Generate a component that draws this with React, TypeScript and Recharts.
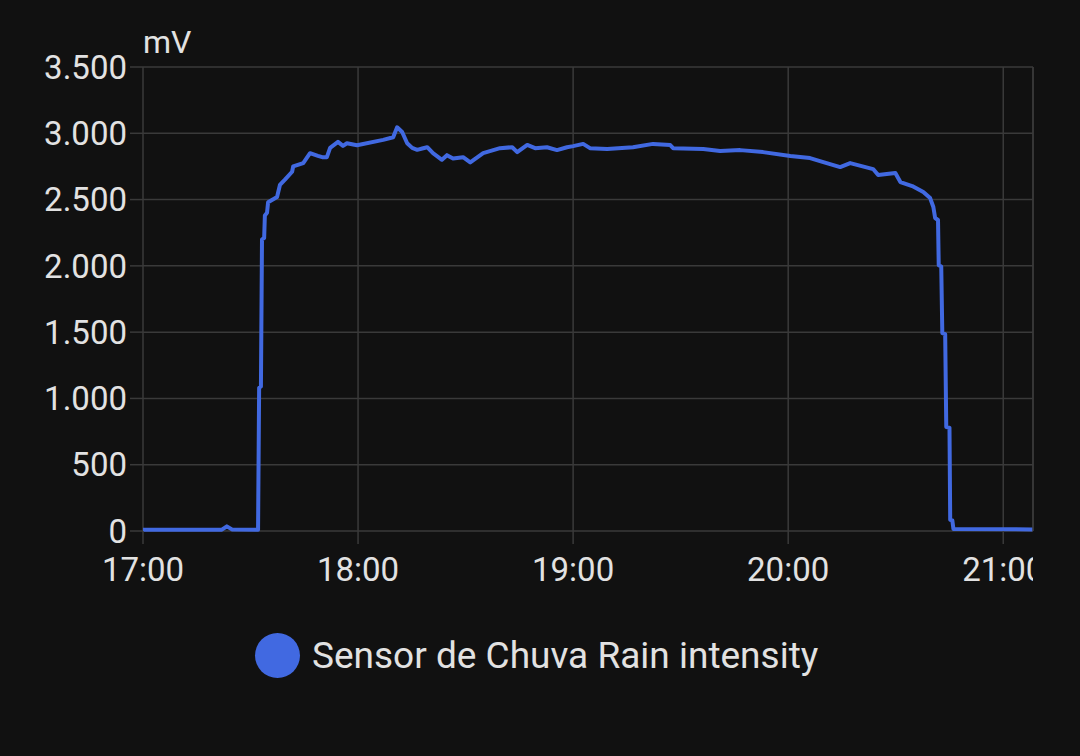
import React from 'react';
import { LineChart, Line, XAxis, YAxis, CartesianGrid, ReferenceLine } from 'recharts';

// minutes since 17:00
const minutes = [
  0, 15.9, 22, 23.4, 24.8, 32.1, 32.4, 32.9, 33.2, 33.8, 34.0, 34.6, 34.9, 37.4, 38.2, 39.6,
  41.6, 41.9, 44.7, 46.6, 48.8, 50, 51.3, 52.2, 54.4, 55.8, 56.9, 59.7, 67, 69.8, 70.9, 72.3,
  73.7, 75.1, 76.5, 77.9, 79.3, 80.9, 83.4, 84.8, 86.5, 89.3, 91.3, 94.9, 99.6, 103, 104.4,
  107.2, 109.4, 112.7, 115.5, 118.3, 120, 122.8, 124.7, 129.5, 136.7, 142.3, 147.1, 147.9,
  156.3, 161, 166.6, 173, 180.6, 186.1, 189.8, 194.5, 197.3, 203.7, 205.1, 209.9, 211.3,
  214.6, 217.7, 219.6, 220.5, 221, 221.8, 222, 222.7, 223, 223.8, 224.1, 225, 225.2, 225.8,
  226.1, 248.1,
];

// mV
const rainIntensity = [
  10, 10, 10, 35, 12, 10, 1080, 1090, 2200, 2210, 2380, 2400, 2480, 2520, 2610, 2650,
  2710, 2750, 2775, 2850, 2830, 2820, 2820, 2890, 2935, 2905, 2925, 2910, 2950, 2970, 3045, 3010,
  2925, 2890, 2875, 2885, 2895, 2850, 2800, 2835, 2810, 2820, 2780, 2850, 2888, 2895, 2858,
  2912, 2888, 2895, 2873, 2895, 2903, 2920, 2888, 2881, 2895, 2920, 2911, 2888,
  2881, 2866, 2873, 2858, 2828, 2813, 2783, 2745, 2775, 2730, 2685, 2700, 2632,
  2602, 2557, 2511, 2444, 2361, 2346, 2005, 1995, 1493, 1485, 785, 780, 85, 80,
  15, 12,
];

const xTicks = [0, 60, 120, 180, 240];
const xTickLabels = ['17:00', '18:00', '19:00', '20:00', '21:00'];
const yTicks = [0, 500, 1000, 1500, 2000, 2500, 3000, 3500];

const SERIES_NAME = 'Sensor de Chuva Rain intensity';
const UNIT = 'mV';
const X_MAX = 248.3;

const W = 1080;
const H = 600;
const MARGIN = { top: 67, right: 47, bottom: 0, left: 0 };
const FONT = 'Roboto, "Noto Sans", sans-serif';
const TEXT = '#e2e2e2';
const GRID = '#3a3a3a';
const BLUE = '#4169e1';

const data = minutes.map((t, i) => ({ t, value: rainIntensity[i] }));

const fmtThousands = (v: number) => String(v).replace(/\B(?=(\d{3})+(?!\d))/g, '.');

const XTick = ({ x, y, payload, index }: any) => {
  const label = xTickLabels[xTicks.indexOf(payload.value)] ?? '';
  const id = `xclip-${index}`;
  return (
    <g>
      <defs>
        <clipPath id={id}>
          <rect x={0} y={0} width={W - MARGIN.right} height={H} />
        </clipPath>
      </defs>
      <text
        x={x}
        y={y}
        dy="0.71em"
        textAnchor="middle"
        fill={TEXT}
        fontSize={33}
        fontFamily={FONT}
        clipPath={`url(#${id})`}
      >
        {label}
      </text>
    </g>
  );
};

const UnitLabel = ({ viewBox }: any) => (
  <text
    x={viewBox.x + viewBox.width}
    y={53}
    fill={TEXT}
    fontSize={32}
    fontFamily={FONT}
  >
    {UNIT}
  </text>
);

export default function App() {
  return (
    <div
      style={{
        position: 'absolute',
        left: 0,
        top: 0,
        width: W,
        height: 756,
        background: '#111111',
        fontFamily: FONT,
      }}
    >
      <LineChart width={W} height={H} data={data} margin={MARGIN}>
        <CartesianGrid stroke={GRID} strokeWidth={1.5} />
        <XAxis
          dataKey="t"
          type="number"
          domain={[0, X_MAX]}
          ticks={xTicks}
          height={69}
          axisLine={false}
          tickLine={{ stroke: GRID, strokeWidth: 1.5 }}
          tickSize={13}
          tickMargin={14}
          tick={<XTick />}
          interval={0}
        />
        <YAxis
          type="number"
          domain={[0, 3500]}
          ticks={yTicks}
          width={143}
          axisLine={false}
          tickLine={{ stroke: GRID, strokeWidth: 1.5 }}
          tickSize={13}
          tickMargin={3}
          tickFormatter={fmtThousands}
          tick={{ fill: TEXT, fontSize: 33, fontFamily: FONT }}
          interval={0}
          label={<UnitLabel />}
        />
        <ReferenceLine x={X_MAX} stroke={GRID} strokeWidth={1.5} />
        <Line
          type="linear"
          dataKey="value"
          name={SERIES_NAME}
          stroke={BLUE}
          strokeWidth={4}
          strokeLinejoin="round"
          dot={false}
          isAnimationActive={false}
        />
      </LineChart>
      <div
        style={{
          position: 'absolute',
          left: 255,
          top: 633,
          height: 45,
          display: 'flex',
          alignItems: 'center',
        }}
      >
        <span
          style={{
            width: 45,
            height: 45,
            borderRadius: '50%',
            background: BLUE,
            display: 'inline-block',
          }}
        />
        <span style={{ marginLeft: 12, color: TEXT, fontSize: 37, lineHeight: '45px' }}>
          {SERIES_NAME}
        </span>
      </div>
    </div>
  );
}
